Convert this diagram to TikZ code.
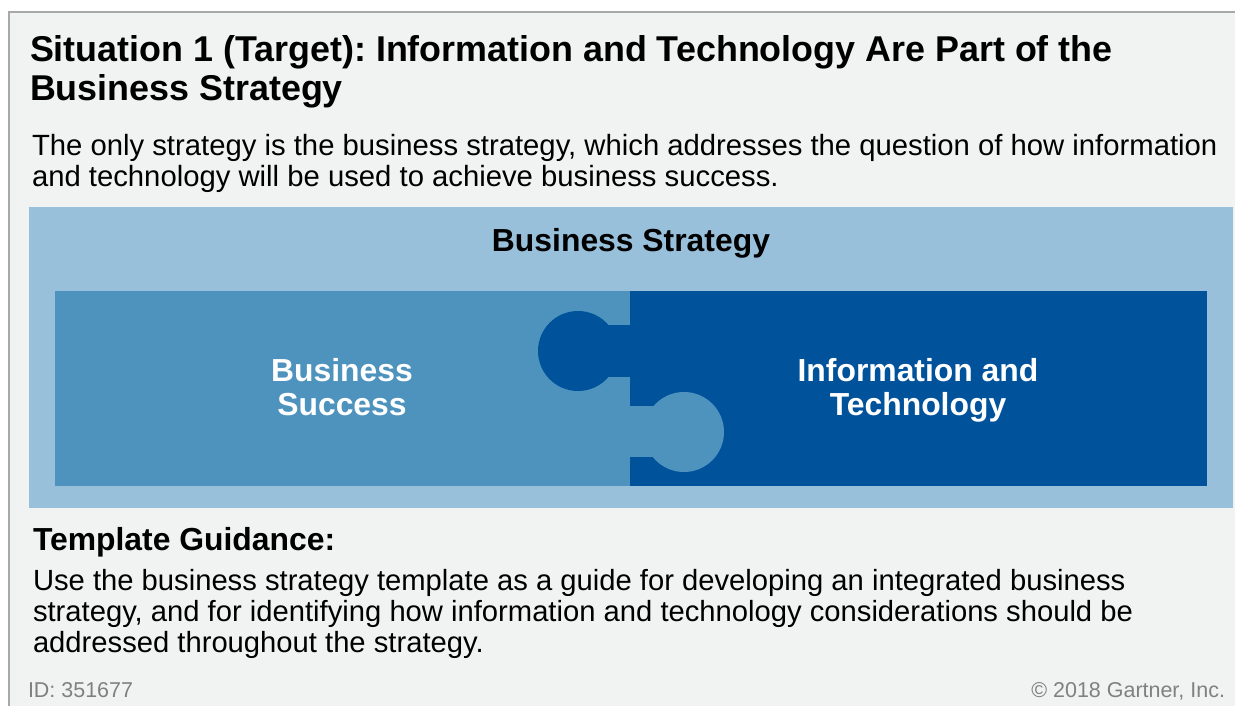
\documentclass[tikz,border=0pt]{standalone}
\usepackage{fontspec}
\setmainfont{Liberation Sans}
\frenchspacing
\definecolor{framebg}{HTML}{F1F2F2}
\definecolor{framebd}{HTML}{A8A8A8}
\definecolor{band}{HTML}{98C0DA}
\definecolor{midblue}{HTML}{4D93BE}
\definecolor{darkblue}{HTML}{00529B}
\definecolor{foot}{HTML}{808080}
\begin{document}
\begin{tikzpicture}[x=0.75pt,y=-0.75pt,
  txt/.style={inner sep=0pt,outer sep=0pt,align=left},
  ctxt/.style={inner sep=0pt,outer sep=0pt,align=center},
  titlefont/.style={font=\frenchspacing\bfseries\fontsize{26.9pt}{29.5pt}\selectfont},
  bodyfont/.style={font=\frenchspacing\fontsize{21.95pt}{24pt}\selectfont},
  guidefont/.style={font=\frenchspacing\fontsize{21.9pt}{23.25pt}\selectfont},
  piecefont/.style={font=\bfseries\fontsize{23.9pt}{25.5pt}\selectfont, text=white},
  footfont/.style={font=\fontsize{16.1pt}{18pt}\selectfont, text=foot}]
\useasboundingbox (0,0) rectangle (1235,706);
% frame
\fill[white] (0,0) rectangle (1235,706);
\fill[framebg] (9,12) rectangle (1235,706);
\draw[framebd, line width=1.2pt] (9,706) -- (9,12) -- (1235,12);
% band
\fill[band] (29,207) rectangle (1233,508);
% panels
\fill[midblue] (55,291) rectangle (630,486);
\fill[darkblue] (630,291) rectangle (1207,486);
% puzzle knobs
\fill[darkblue] (578,351) circle (40);
\fill[darkblue] (600,325) rectangle (630,377);
\fill[midblue] (684,432) circle (40);
\fill[midblue] (630,406) rectangle (660,457);
% texts
\node[txt, titlefont, anchor=base west] (title) at (30,100.5)
  {Situation 1 (Target): Information and Technology Are Part of the\\Business Strategy};
\node[txt, bodyfont, anchor=base west] (intro) at (32,187)
  {The only strategy is the business strategy, which addresses the question of how information\\and technology will be used to achieve business success.};
\node[ctxt, font=\bfseries\fontsize{23.9pt}{26pt}\selectfont, anchor=base] (bs) at (631,251.5) {Business Strategy};
\node[ctxt, piecefont, anchor=base] (succ) at (342,415) {Business\\Success};
\node[ctxt, piecefont, anchor=base] (it) at (918,415) {Information and\\Technology};
\node[txt, font=\bfseries\fontsize{23.9pt}{28pt}\selectfont, anchor=base west] (tg) at (33,550) {Template Guidance:};
\node[txt, guidefont, anchor=base west] (guide) at (33,652)
  {Use the business strategy template as a guide for developing an integrated business\\strategy, and for identifying how information and technology considerations should be\\addressed throughout the strategy.};
\node[txt, footfont, anchor=base west] (id) at (28,697) {ID: 351677};
\node[txt, footfont, anchor=base east] (copy) at (1225,697) {© 2018 Gartner, Inc.};
\end{tikzpicture}
\end{document}
